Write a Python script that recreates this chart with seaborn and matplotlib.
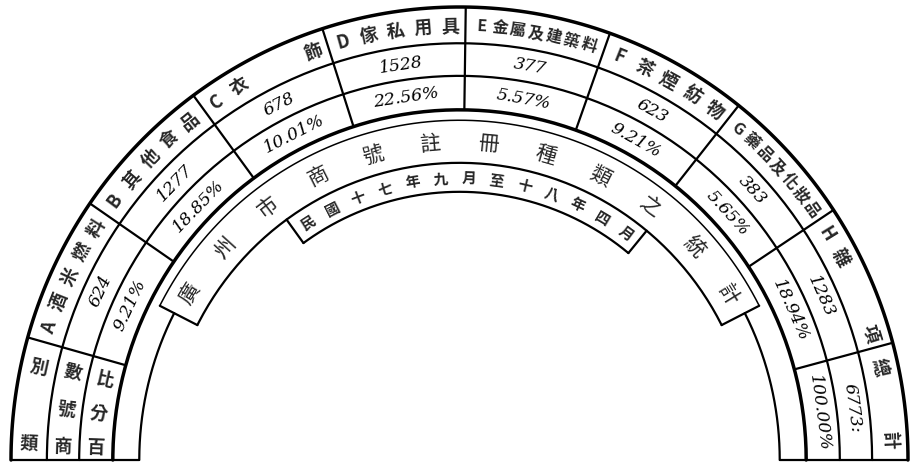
# Guangzhou business registrations, semicircular table (1928-29)
import numpy as np
import pandas as pd
import seaborn as sns
import matplotlib
matplotlib.use('Agg')
import matplotlib.pyplot as plt

# ---- data ----
categories = ['A酒米燃料', 'B其他食品', 'C衣  飾', 'D傢私用具',
              'E金屬及建築料', 'F茶煙紡物', 'G藥品及化妝品', 'H雜  項']
counts = [624, 1277, 678, 1528, 377, 623, 383, 1283]
percents = [9.21, 18.85, 10.01, 22.56, 5.57, 9.21, 5.65, 18.94]
total_label = '總  計'
total_count = '6773:'
total_pct = '100.00%'
row_labels = ['類 別', '商號數', '百分比']
title = '廣州市商號註冊種類之統計'
subtitle = '民國十七年九月至十八年四月'

# ---- layout (angles in degrees, radii as fraction of outer radius) ----
bounds = [180, 164.3, 145.5, 126.4, 107.8, 89.2, 70.4, 51.5, 33.5, 15.0, 0]
R0, R1, R2, R3 = 1.0, 0.920, 0.848, 0.773
R_band_out, R_low, R_band_in, R_sub_in = 0.750, 0.714, 0.656, 0.592
banner_span = (27, 153)
sub_span = (50.5, 126)

sns.set_theme(style='white')
plt.rcParams['font.family'] = ['Noto Sans CJK TC', 'DejaVu Sans']

fig = plt.figure(figsize=(9.13, 4.64), dpi=100)
ax = fig.add_axes([0, 0, 1, 1])


def arc(r, a0, a1, n=200):
    t = np.radians(np.linspace(a0, a1, n))
    return r * np.cos(t), r * np.sin(t)


def radial(a, r0, r1):
    t = np.radians(a)
    return np.array([r0, r1]) * np.cos(t), np.array([r0, r1]) * np.sin(t)


# collect every line as a segment in one long table
segs = []


def add(xy, weight):
    x, y = xy
    segs.append(pd.DataFrame({'x': x, 'y': y, 'seg': len(segs), 'weight': weight}))


add(arc(R0, 0, 180), 'thick')
add(arc(R1, 0, 180), 'mid')
add(arc(R2, 0, 180), 'mid')
add(arc(R3, 0, 180), 'thick')
add(arc(R_low, banner_span[1], 180), 'mid')
add(arc(R_low, 0, banner_span[0]), 'mid')
add(arc(R_band_out, *banner_span), 'thin')
add(arc(R_band_in, *banner_span), 'mid')
for a in banner_span:
    add(radial(a, R_band_in, R_band_out), 'mid')
add(arc(R_sub_in, *sub_span), 'mid')
for a in sub_span:
    add(radial(a, R_sub_in, R_band_in), 'mid')
for a in bounds[1:-1]:
    add(radial(a, R3, R0), 'mid')
add(([-R0, -R_low], [0, 0]), 'mid')
add(([R_low, R0], [0, 0]), 'mid')

lines = pd.concat(segs, ignore_index=True)
sns.lineplot(data=lines, x='x', y='y', units='seg', size='weight',
             sizes={'thin': 1.1, 'mid': 1.6, 'thick': 2.5},
             estimator=None, sort=False, color='black', legend=False, ax=ax)


def arc_text(s, r, mid, step, upright=False, **kw):
    n = len(s)
    angles = mid + step * ((n - 1) / 2 - np.arange(n))
    for ch, a in zip(s, angles):
        if ch == ' ':
            continue
        t = np.radians(a)
        rot = a - 180 if upright else a - 90
        ax.text(r * np.cos(t), r * np.sin(t), ch, rotation=rot,
                ha='center', va='center', rotation_mode='anchor', **kw)


def one_text(s, r, a, **kw):
    t = np.radians(a)
    ax.text(r * np.cos(t), r * np.sin(t), s, rotation=a - 90,
            ha='center', va='center', rotation_mode='anchor', **kw)


r_cat = (R0 + R1) / 2
r_cnt = (R1 + R2) / 2
r_pct = (R2 + R3) / 2
num_kw = dict(fontsize=12.5, style='italic', family='DejaVu Serif', color='black')

# category sectors
for i, (lab, c, p) in enumerate(zip(categories, counts, percents)):
    mid = (bounds[i + 1] + bounds[i + 2]) / 2
    n = len(lab)
    fs = 13 if n <= 5 else 11.5
    arc_text(lab, r_cat, mid, 14.5 / (n - 1), fontsize=fs, fontweight='bold')
    one_text(f'{c}', r_cnt, mid, **num_kw)
    one_text(f'{p:.2f}%', r_pct, mid, **num_kw)

# left header column
mid_left = 172.6
for lab, r in zip(row_labels, [r_cat, r_cnt, r_pct]):
    step = 5.0 if lab.count(' ') else 5.4
    arc_text(lab, r, mid_left, step, upright=True, fontsize=13, fontweight='bold')

# right total column
mid_right = 7.6
arc_text(total_label, r_cat, mid_right, 3.25, fontsize=13, fontweight='bold')
one_text(total_count, r_cnt, mid_right, **num_kw)
one_text(total_pct, r_pct, mid_right, **num_kw)

# banner title and subtitle
arc_text(title, (R_band_out + R_band_in) / 2, 90, 117 / 11, fontsize=15)
arc_text(subtitle, (R_band_in + R_sub_in) / 2, 88.1, 5.77, fontsize=10.5, fontweight='bold')

ax.set_xlim(-459.5 / 448.5, 453.5 / 448.5)
ax.set_ylim(-3 / 453, 461 / 453)
ax.axis('off')

fig.savefig('out.png', dpi=100, facecolor='white')
